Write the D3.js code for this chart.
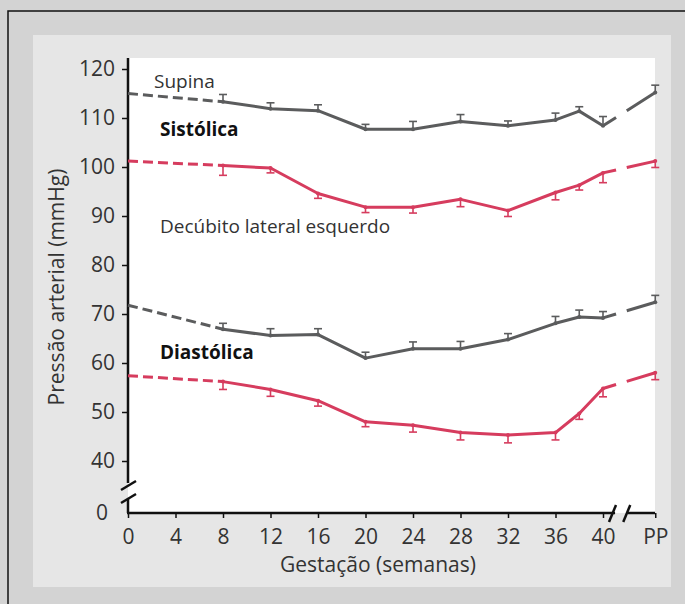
<!DOCTYPE html>
<html>
<head>
<meta charset="utf-8">
<script src="https://cdn.jsdelivr.net/npm/d3@7"></script>
<style>
  html, body { margin: 0; padding: 0; background: #d3d3d3; }
  svg { display: block; font-family: "Open Sans", "Noto Sans", sans-serif; }
</style>
</head>
<body>
<div id="chart"></div>
<script>
'use strict';

// weeks of gestation, last one is postpartum (PP)
const weeks = [0, 8, 12, 16, 20, 24, 28, 32, 36, 38, 40, 'PP'];
const xTicks = [0, 4, 8, 12, 16, 20, 24, 28, 32, 36, 40, 'PP'];
const yTicks = [0, 40, 50, 60, 70, 80, 90, 100, 110, 120];

// values (mmHg); first value is the extrapolated start (no error bar)
const sysSupine = [115, 113.3, 111.9, 111.5, 107.7, 107.7, 109.3, 108.4, 109.6, 111.4, 108.4, 115.2];
const sysSupineErr = [0, 1.5, 1.2, 1.2, 1.0, 1.6, 1.4, 1.0, 1.4, 0.9, 1.9, 1.5];
const sysLateral = [101.2, 100.3, 99.8, 94.6, 91.8, 91.8, 93.4, 91.1, 94.8, 96.3, 98.8, 101.2];
const sysLateralErr = [0, 2.0, 1.0, 1.0, 1.1, 1.2, 1.5, 1.2, 1.5, 1.0, 2.0, 1.3];
const diaSupine = [71.8, 66.9, 65.6, 65.8, 61.0, 62.9, 62.9, 64.8, 68.1, 69.4, 69.2, 72.4];
const diaSupineErr = [0, 1.2, 1.4, 1.2, 1.2, 1.4, 1.5, 1.2, 1.4, 1.4, 1.3, 1.4];
const diaLateral = [57.4, 56.2, 54.6, 52.3, 48.0, 47.3, 45.8, 45.3, 45.8, 49.7, 54.8, 58.0];
const diaLateralErr = [0, 1.6, 1.4, 1.1, 1.0, 1.4, 1.5, 1.6, 1.5, 1.2, 1.7, 1.4];

const GRAY = "#5b5c5d", RED = "#d63c5e", TEXT = "#333";

const width = 685, height = 604;
const ppWeek = 44.4;          // where PP sits on the week scale
const breakX = [41.1, 42.0];  // gap on the x axis (weeks)

const svg = d3.select("#chart").append("svg")
  .attr("width", width).attr("height", height);

// backgrounds
svg.append("rect").attr("x", 8).attr("y", 11).attr("width", 700).attr("height", 620)
  .attr("fill", "#d3d3d3").attr("stroke", "#111").attr("stroke-width", 1.5);
svg.append("rect").attr("x", 33).attr("y", 35).attr("width", 638).attr("height", 552)
  .attr("fill", "#e6e6e6");

// scales
let x = d3.scaleLinear().domain([0, 40]).range([128, 603]);
let y = d3.scaleLinear().domain([0, 40, 120]).range([513, 461, 69]);
const xw = (w) => x(w === 'PP' ? ppWeek : w);

svg.append("rect").attr("x", 128).attr("y", 58)
  .attr("width", 655 - 128).attr("height", 513 - 58).attr("fill", "#fff");

// y axis
let yAxis = svg.append("g")
  .attr("transform", "translate(128,0)")
  .call(d3.axisLeft(y).tickValues(yTicks).tickSize(6).tickPadding(7));
yAxis.select(".domain").remove();
yAxis.selectAll(".tick line").attr("stroke", "#111").attr("stroke-width", 1.5);
yAxis.selectAll(".tick text").style("font-size", "21px").attr("fill", TEXT)
  .style("font-family", "'Open Sans', sans-serif");
yAxis.selectAll(".tick").filter(d => d === 0).select("line").remove();
yAxis.selectAll(".tick").filter(d => d === 0).select("text").attr("x", -20);

// x axis
let xAxis = svg.append("g")
  .attr("transform", "translate(0,513)")
  .call(d3.axisBottom(x).tickValues(xTicks.map(t => t === 'PP' ? ppWeek : t))
    .tickFormat(d => d === ppWeek ? 'PP' : d).tickSize(5).tickPadding(11));
xAxis.select(".domain").remove();
xAxis.selectAll(".tick line").attr("stroke", "#111").attr("stroke-width", 1.5);
xAxis.selectAll(".tick text").style("font-size", "21px").attr("fill", TEXT)
  .style("font-family", "'Open Sans', sans-serif");

// axis lines with breaks
const axisLines = [
  [128, 58, 128, 483],
  [128, 499, 128, 513],
  [127, 513, x(breakX[0]) - 1, 513],
  [x(breakX[1]) + 1, 513, 655, 513]
];
svg.append("g").selectAll("line").data(axisLines).enter().append("line")
  .attr("x1", d => d[0]).attr("y1", d => d[1]).attr("x2", d => d[2]).attr("y2", d => d[3])
  .attr("stroke", "#111").attr("stroke-width", 2.5);

// break slashes
const ySlash = [485, 498];
svg.append("g").selectAll("line").data(ySlash).enter().append("line")
  .attr("x1", 121).attr("y1", d => d + 5).attr("x2", 136).attr("y2", d => d - 4)
  .attr("stroke", "#111").attr("stroke-width", 2.5);
svg.append("g").selectAll("line").data([x(40.8), x(42.0)]).enter().append("line")
  .attr("x1", d => d - 3.5).attr("y1", 522).attr("x2", d => d + 3.5).attr("y2", 505)
  .attr("stroke", "#111").attr("stroke-width", 2.5);

const line = d3.line().x(d => xw(d.w)).y(d => y(d.v));

function drawSeries(values, errs, color, dir) {
  const pts = weeks.map((w, i) => ({w: w, v: values[i], e: errs[i]}));
  const g = svg.append("g");

  // extrapolated start, dashed
  g.append("path").datum(pts.slice(0, 2)).attr("d", line)
    .attr("fill", "none").attr("stroke", color).attr("stroke-width", 3)
    .attr("stroke-dasharray", "10,5");

  // measured pregnancy values
  g.append("path").datum(pts.slice(1, 11)).attr("d", line)
    .attr("fill", "none").attr("stroke", color).attr("stroke-width", 3)
    .attr("stroke-linejoin", "round");

  // 40 weeks to postpartum, interrupted at the axis break
  const tail = g.append("path").datum(pts.slice(10)).attr("d", line)
    .attr("fill", "none").attr("stroke", color).attr("stroke-width", 3);
  const L = tail.node().getTotalLength();
  const span = xw('PP') - x(40);
  const f1 = (x(breakX[0]) - x(40)) / span, f2 = (x(breakX[1]) - x(40)) / span;
  tail.attr("stroke-dasharray", (f1 * L) + "," + ((f2 - f1) * L) + "," + L);

  // error bars (one-sided)
  const bars = pts.filter(d => d.e > 0);
  g.selectAll(".eb").data(bars).enter().append("line")
    .attr("x1", d => xw(d.w)).attr("x2", d => xw(d.w))
    .attr("y1", d => y(d.v)).attr("y2", d => y(d.v + dir * d.e))
    .attr("stroke", color).attr("stroke-width", 1.6);
  g.selectAll(".cap").data(bars).enter().append("line")
    .attr("x1", d => xw(d.w) - 4).attr("x2", d => xw(d.w) + 4)
    .attr("y1", d => y(d.v + dir * d.e)).attr("y2", d => y(d.v + dir * d.e))
    .attr("stroke", color).attr("stroke-width", 1.6);
  g.selectAll("circle").data(bars).enter().append("circle")
    .attr("cx", d => xw(d.w)).attr("cy", d => y(d.v)).attr("r", 2)
    .attr("fill", color);
}

drawSeries(sysSupine, sysSupineErr, GRAY, 1);
drawSeries(sysLateral, sysLateralErr, RED, -1);
drawSeries(diaSupine, diaSupineErr, GRAY, 1);
drawSeries(diaLateral, diaLateralErr, RED, -1);

// annotations
const notes = [
  {t: "Supina", x: 154, y: 88, w: "normal"},
  {t: "Sistólica", x: 160, y: 136, w: "bold"},
  {t: "Decúbito lateral esquerdo", x: 160, y: 233, w: "normal"},
  {t: "Diastólica", x: 160, y: 359, w: "bold"}
];
svg.append("g").selectAll("text").data(notes).enter().append("text")
  .attr("x", d => d.x).attr("y", d => d.y)
  .style("font-size", "19px").style("font-weight", d => d.w)
  .attr("fill", d => d.w === "bold" ? "#111" : TEXT)
  .text(d => d.t);

// axis titles
svg.append("text")
  .attr("transform", "translate(64,287) rotate(-90)")
  .attr("text-anchor", "middle")
  .style("font-size", "21px").attr("fill", TEXT)
  .text("Pressão arterial (mmHg)");

svg.append("text")
  .attr("x", 378).attr("y", 572)
  .attr("text-anchor", "middle")
  .style("font-size", "21px").attr("fill", TEXT)
  .text("Gestação (semanas)");
</script>
</body>
</html>
